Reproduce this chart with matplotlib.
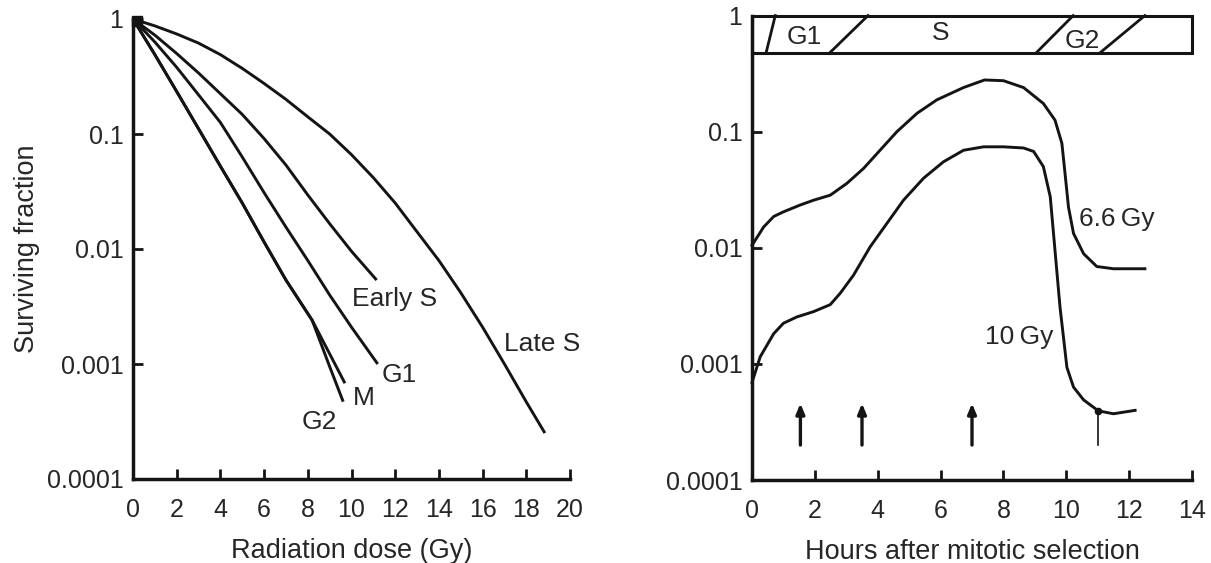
import matplotlib
matplotlib.use("Agg")
import matplotlib.pyplot as plt
from matplotlib.patches import Rectangle

plt.rcParams["font.family"] = ["Liberation Sans", "DejaVu Sans"]

INK = "#141414"
TXT = "#262626"

# ---- Left panel: survival curves by cell-cycle phase ----
dose_late_s = [0, 1, 2, 3, 4, 5, 6, 7, 8, 9, 10, 11, 12, 13, 14, 15, 16, 17, 18, 18.85]
sf_late_s = [1.0, 0.871, 0.741, 0.617, 0.490, 0.372, 0.275, 0.200, 0.141, 0.100, 0.0661,
             0.0417, 0.0251, 0.0141, 0.00794, 0.00417, 0.00209, 0.00100, 0.000468, 0.000251]

dose_early_s = [0, 1, 2, 3, 4, 5, 6, 7, 8, 9, 10, 11.15]
sf_early_s = [1.0, 0.724, 0.501, 0.339, 0.224, 0.148, 0.0912, 0.0537, 0.0295, 0.0166,
              0.00955, 0.00537]

dose_g1 = [0, 1, 2, 3, 4, 5, 6, 7, 8, 9, 10, 11.2]
sf_g1 = [1.0, 0.631, 0.380, 0.219, 0.126, 0.0631, 0.0309, 0.0155, 0.00794, 0.00398,
         0.00209, 0.00100]

dose_m = [0, 1, 2, 3, 4, 5, 6, 7, 8.2, 9.7]
sf_m = [1.0, 0.490, 0.234, 0.111, 0.0525, 0.0251, 0.0115, 0.00537, 0.0024, 0.00068]

dose_g2 = [0, 1, 2, 3, 4, 5, 6, 7, 8.2, 9.0, 9.62]
sf_g2 = [1.0, 0.490, 0.234, 0.111, 0.0525, 0.0251, 0.0115, 0.00537, 0.0024, 0.00095, 0.00047]

phase_labels = ["Early S", "Late S", "G1", "M", "G2"]
phase_label_x = [10.0, 17.0, 11.4, 10.08, 7.72]
phase_label_y = [0.0037, 0.0015, 0.00081, 0.00051, 0.000316]

# ---- Right panel: survival vs time after mitotic selection ----
hours_66 = [0, 0.37, 0.69, 1.0, 1.54, 1.96, 2.49, 3.02, 3.55, 4.08, 4.61, 5.25, 5.88,
            6.73, 7.4, 8.0, 8.64, 9.27, 9.64, 9.86, 9.96, 10.07, 10.23, 10.55, 10.97, 11.5, 12.5]
sf_66 = [0.0105, 0.0151, 0.0186, 0.0204, 0.0234, 0.0257, 0.0284, 0.0359, 0.0483, 0.0695,
         0.100, 0.144, 0.188, 0.240, 0.279, 0.275, 0.240, 0.175, 0.126, 0.0794, 0.0437,
         0.0224, 0.0133, 0.0089, 0.0069, 0.0066, 0.0066]

hours_10 = [0, 0.26, 0.69, 1.0, 1.43, 1.96, 2.49, 2.81, 3.23, 3.76, 4.29, 4.82, 5.46, 6.09,
            6.73, 7.37, 8.0, 8.64, 8.96, 9.27, 9.49, 9.64, 9.8, 10.02, 10.23, 10.55, 11.02,
            11.5, 12.19]
sf_10 = [0.000692, 0.00115, 0.00182, 0.00224, 0.00254, 0.00282, 0.00324, 0.00407, 0.00581,
         0.0102, 0.0162, 0.0257, 0.0398, 0.0550, 0.0692, 0.0741, 0.0741, 0.0724, 0.0676,
         0.0501, 0.0275, 0.00955, 0.00309, 0.000933, 0.000631, 0.000490, 0.000394,
         0.000372, 0.000398]

arrow_hours = [1.54, 3.5, 7.0]
arrow_tail, arrow_head = 0.0002, 0.000457
marker_hour, marker_sf = 11.02, 0.000394

# cell-cycle bar: phase boundaries (hour at bar bottom, hour at bar top)
bar_bottom, bar_top = 0.48, 1.0
boundary_bottom = [0.45, 2.48, 9.05, 11.08]
boundary_top = [0.74, 3.69, 10.22, 12.5]
bar_labels = ["G1", "S", "G2"]
bar_label_x = [1.65, 6.0, 10.5]
bar_label_y = [0.66, 0.71, 0.6]

yticks = [1e-4, 1e-3, 1e-2, 1e-1, 1]
ytick_labels = ["0.0001", "0.001", "0.01", "0.1", "1"]

FS_TICK = 18
FS_LABEL = 19.5
FS_ANN = 19

fig = plt.figure(figsize=(12.11, 5.63), dpi=100)
axL = fig.add_axes([133 / 1211, 1 - 479 / 563, 437 / 1211, 460 / 563])
axR = fig.add_axes([752 / 1211, 1 - 480 / 563, 440 / 1211, 464.4 / 563])


def style(ax, xmax, xstep):
    ax.set_yscale("log")
    ax.set_ylim(1e-4, 1)
    ax.set_xlim(0, xmax)
    ax.set_yticks(yticks)
    ax.set_yticklabels(ytick_labels)
    ax.minorticks_off()
    ax.set_xticks(range(0, xmax + 1, xstep))
    for s in ("top", "right"):
        ax.spines[s].set_visible(False)
    for s in ("left", "bottom"):
        ax.spines[s].set_linewidth(2.5)
        ax.spines[s].set_color(INK)
    ax.tick_params(direction="in", length=7, width=2, color=INK,
                   labelsize=FS_TICK, labelcolor=TXT)
    ax.tick_params(axis="x", pad=14)
    ax.tick_params(axis="y", pad=7)
    ax.patch.set_alpha(0)


style(axL, 20, 2)
style(axR, 14, 2)

lw = 2.1
for d, s in [(dose_late_s, sf_late_s), (dose_early_s, sf_early_s), (dose_g1, sf_g1),
             (dose_m, sf_m), (dose_g2, sf_g2)]:
    axL.plot(d, s, color=INK, lw=lw, solid_capstyle="butt", clip_on=False)
axL.plot([0.2], [0.97], marker="s", ms=7, color=INK, clip_on=False)

for t, x, y in zip(phase_labels, phase_label_x, phase_label_y):
    axL.text(x, y, t, fontsize=FS_ANN, color=TXT, ha="left", va="center")

axL.set_xlabel("Radiation dose (Gy)", fontsize=FS_LABEL, color=TXT, labelpad=11)
axL.set_ylabel("Surviving fraction", fontsize=FS_LABEL, color=TXT, labelpad=5)

# right panel curves
axR.plot(hours_66, sf_66, color=INK, lw=lw, clip_on=False)
axR.plot(hours_10, sf_10, color=INK, lw=lw, clip_on=False)
axR.text(10.4, 0.0178, "6.6\u2009Gy", fontsize=FS_ANN, color=TXT, ha="left", va="center")
axR.text(7.4, 0.0017, "10\u2009Gy", fontsize=FS_ANN, color=TXT, ha="left", va="center")

for h in arrow_hours:
    axR.annotate("", xy=(h, arrow_head), xytext=(h, arrow_tail),
                 arrowprops=dict(arrowstyle="-|>,head_length=0.6,head_width=0.25",
                                 color=INK, lw=2.4, shrinkA=0, shrinkB=0))
axR.plot([marker_hour, marker_hour], [arrow_tail, marker_sf], color=INK, lw=1.2)
axR.plot([marker_hour], [marker_sf], marker="o", ms=4.5, color=INK)

# cell-cycle bar along the top
axR.add_patch(Rectangle((0, bar_bottom), 14, bar_top - bar_bottom, fill=False,
                        ec=INK, lw=2.2, clip_on=False))
for b, t in zip(boundary_bottom, boundary_top):
    axR.plot([b, t], [bar_bottom, bar_top], color=INK, lw=2.0, clip_on=False)
for t, x, y in zip(bar_labels, bar_label_x, bar_label_y):
    axR.text(x, y, t, fontsize=FS_ANN, color=TXT, ha="center", va="center")

axR.set_xlabel("Hours after mitotic selection", fontsize=FS_LABEL, color=TXT, labelpad=11)

fig.savefig("out.png", dpi=100, facecolor="white")
